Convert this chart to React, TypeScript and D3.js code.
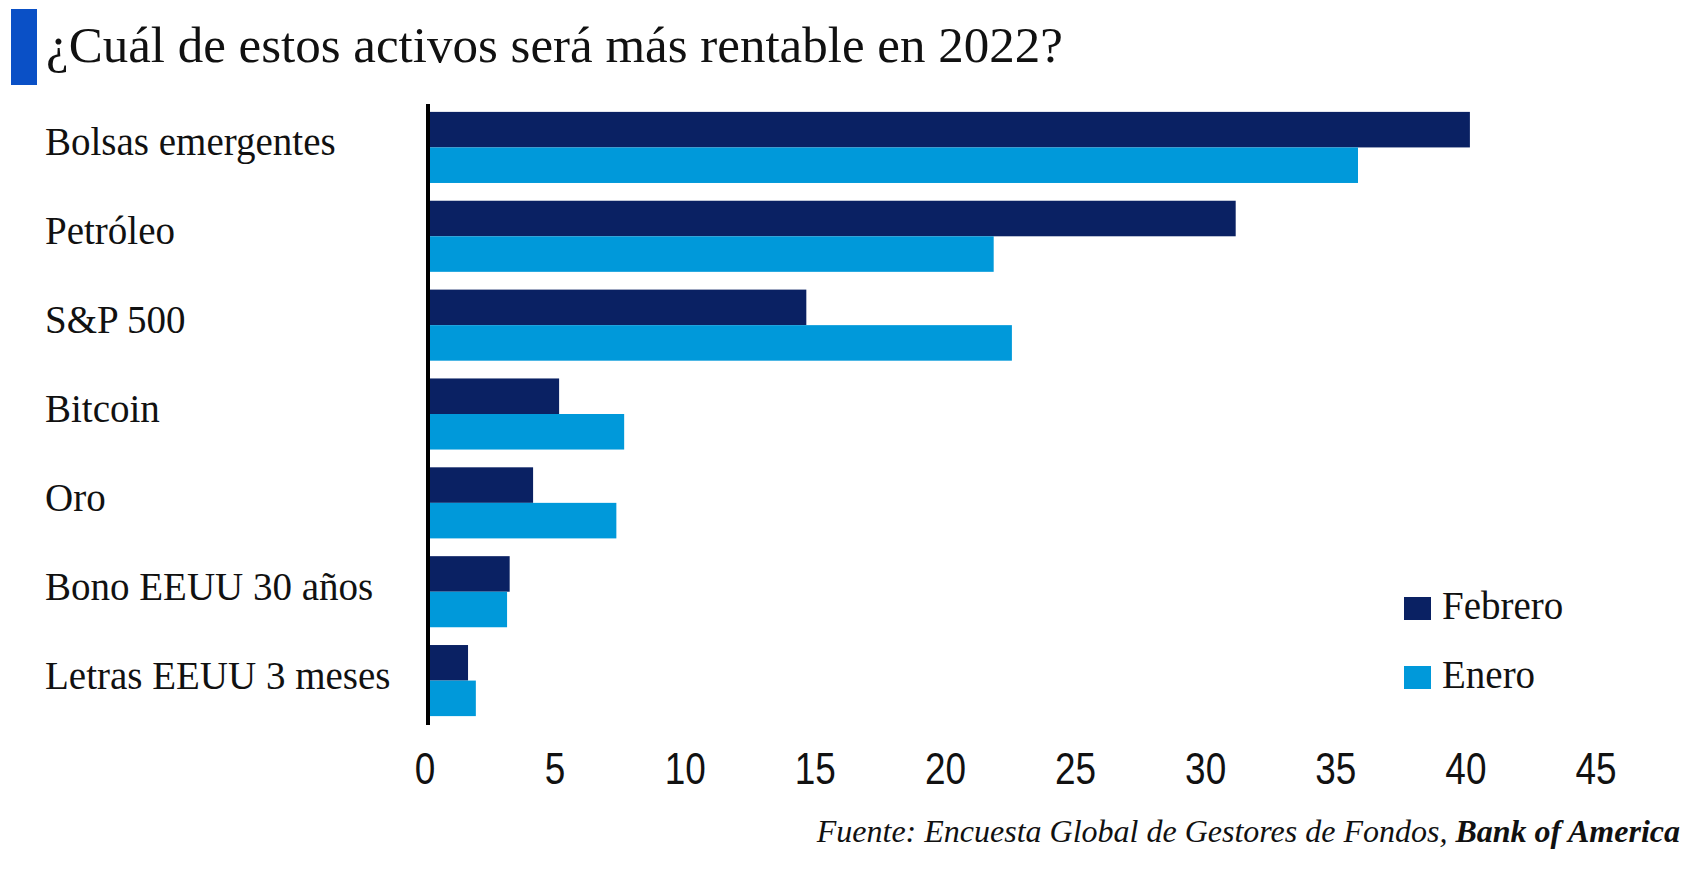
import { useEffect } from 'react';
import * as d3 from 'd3';

const categories = [
    'Bolsas emergentes',
    'Petróleo',
    'S&P 500',
    'Bitcoin',
    'Oro',
    'Bono EEUU 30 años',
    'Letras EEUU 3 meses',
];
const febrero = [40, 31, 14.5, 5, 4, 3.1, 1.5];
const enero = [35.7, 21.7, 22.4, 7.5, 7.2, 3.0, 1.8];
const seriesNames = ['Febrero', 'Enero'];
const xTicks = [0, 5, 10, 15, 20, 25, 30, 35, 40, 45];

const title = '¿Cuál de estos activos será más rentable en 2022?';
const sourceText = 'Fuente: Encuesta Global de Gestores de Fondos, ';
const sourceBold = 'Bank of America';

const WIDTH = 1706;
const HEIGHT = 887;
const colors = ['#0a2163', '#0099da'];
const serif = '"Liberation Serif", "Times New Roman", serif';
const sans = '"Liberation Sans", Arial, sans-serif';

export default function App() {
    useEffect(() => {
        document.body.style.margin = '0';
    }, []);

    const x = d3.scaleLinear().domain([0, 45]).range([429, 1600]);

    const y = d3.scaleBand<string>()
        .domain(categories)
        .range([103, 725])
        .paddingInner(0.2)
        .paddingOuter(0.1);

    const inner = d3.scaleBand<string>()
        .domain(seriesNames)
        .range([0, y.bandwidth()]);

    const values = [febrero, enero];

    return (
        <svg width={WIDTH} height={HEIGHT} style={{ display: 'block', background: '#fff' }}>
            {/* title with blue marker */}
            <rect x={11} y={9} width={26} height={76} fill="#0a50c6" />
            <text x={46} y={62} fontFamily={serif} fontSize={51} fill="#111">{title}</text>

            {/* bars */}
            {categories.map((cat, i) => (
                <g key={cat} transform={`translate(0, ${y(cat)})`}>
                    {seriesNames.map((s, k) => (
                        <rect
                            key={s}
                            x={x(0)}
                            y={inner(s)}
                            width={x(values[k][i]) - x(0)}
                            height={inner.bandwidth()}
                            fill={colors[k]}
                        />
                    ))}
                </g>
            ))}

            {/* category labels */}
            {categories.map((cat) => (
                <text
                    key={cat}
                    x={45}
                    y={(y(cat) ?? 0) + y.bandwidth() / 2 + 8}
                    fontFamily={serif}
                    fontSize={39}
                    fill="#111"
                >
                    {cat}
                </text>
            ))}

            {/* axis line */}
            <line x1={x(0) - 1} x2={x(0) - 1} y1={104} y2={725} stroke="#000" strokeWidth={4} />

            {/* x tick labels, condensed */}
            {xTicks.map((t) => (
                <text
                    key={t}
                    transform={`translate(${x(t) - 4}, 784) scale(0.84, 1)`}
                    textAnchor="middle"
                    fontFamily={sans}
                    fontSize={44}
                    fill="#111"
                >
                    {t}
                </text>
            ))}

            {/* legend */}
            {seriesNames.map((s, k) => (
                <g key={s} transform={`translate(1404, ${597 + k * 69})`}>
                    <rect x={0} y={0} width={27} height={23} fill={colors[k]} />
                    <text x={38} y={22} fontFamily={serif} fontSize={39} fill="#111">{s}</text>
                </g>
            ))}

            {/* source */}
            <text x={1680} y={842} textAnchor="end" fontFamily={serif} fontSize={32} fontStyle="italic" fill="#111">
                {sourceText}
                <tspan fontWeight="bold">{sourceBold}</tspan>
            </text>
        </svg>
    );
}
